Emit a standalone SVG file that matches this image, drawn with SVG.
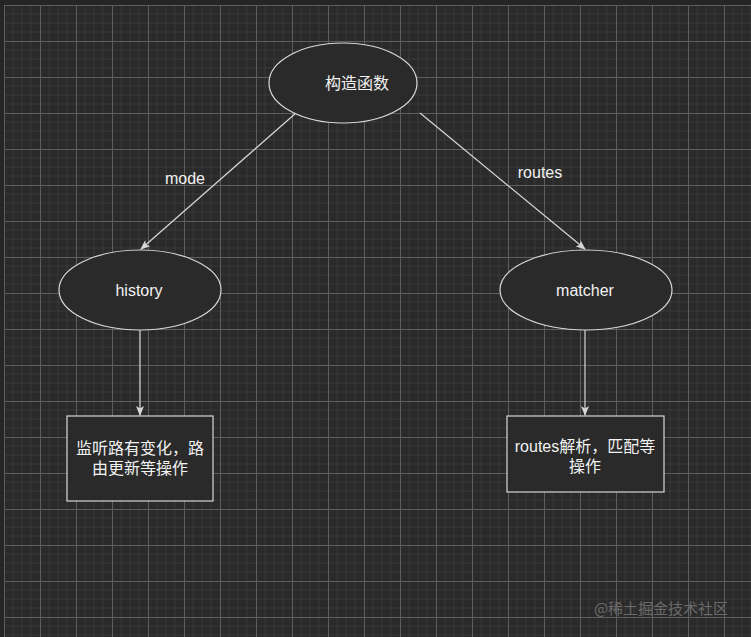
<svg xmlns="http://www.w3.org/2000/svg" width="751" height="637" viewBox="0 0 751 637">
<style>
.shape{fill:#2a2a2a;stroke:#d8d8d8;stroke-width:1.2}
.t{font-family:"Liberation Sans","Noto Sans CJK SC",sans-serif;font-size:16px;fill:#f2f2f2;text-anchor:middle}
.edge{stroke:#d8d8d8;stroke-width:1.2;fill:none}
</style>
<defs>
<pattern id="grid" x="4" y="5" width="36" height="36" patternUnits="userSpaceOnUse">
<path d="M9,0V36M18,0V36M27,0V36M0,9H36M0,18H36M0,27H36" stroke="#383838" stroke-width="1" fill="none"/>
<path d="M0.5,0V36M0,0.5H36" stroke="#5e5e5e" stroke-width="1" fill="none"/>
</pattern>
<marker id="arr" markerWidth="10" markerHeight="8" refX="9" refY="4" orient="auto" markerUnits="userSpaceOnUse">
<path d="M0,0 L10,4 L0,8 L2.5,4 z" fill="#d8d8d8"/>
</marker>
</defs>
<rect width="751" height="637" fill="#252525"/>
<rect x="4" y="5" width="747" height="632" fill="#2a2a2a"/>
<rect x="4" y="5" width="747" height="632" fill="url(#grid)"/>
<g id="connectors">
<line class="edge" x1="296" y1="113" x2="141" y2="249" marker-end="url(#arr)"/>
<line class="edge" x1="420" y1="113" x2="585" y2="249" marker-end="url(#arr)"/>
<line class="edge" x1="140" y1="330" x2="140" y2="415" marker-end="url(#arr)"/>
<line class="edge" x1="585" y1="330" x2="585" y2="415" marker-end="url(#arr)"/>
<text class="t" x="185" y="184">mode</text>
<text class="t" x="540" y="178">routes</text>
</g>
<g id="n-ctor">
<ellipse class="shape" cx="343" cy="83" rx="74" ry="40"/>
<text class="t" x="357" y="89">构造函数</text>
</g>
<g id="n-history">
<ellipse class="shape" cx="140" cy="290" rx="81" ry="40"/>
<text class="t" x="139" y="296">history</text>
</g>
<g id="n-matcher">
<ellipse class="shape" cx="586" cy="290" rx="86" ry="40"/>
<text class="t" x="585" y="296">matcher</text>
</g>
<g id="n-left">
<rect class="shape" x="67" y="416" width="146" height="85"/>
<text class="t" x="140" y="454">监听路有变化，路</text>
<text class="t" x="140" y="474">由更新等操作</text>
</g>
<g id="n-right">
<rect class="shape" x="507" y="416" width="157" height="76"/>
<text class="t" x="585" y="452">routes解析，匹配等</text>
<text class="t" x="585" y="472">操作</text>
</g>
<text x="661" y="614" style="font-family:'Noto Sans CJK SC',sans-serif;font-size:15px;fill:#6a6a6a;text-anchor:middle">@稀土掘金技术社区</text>
</svg>
